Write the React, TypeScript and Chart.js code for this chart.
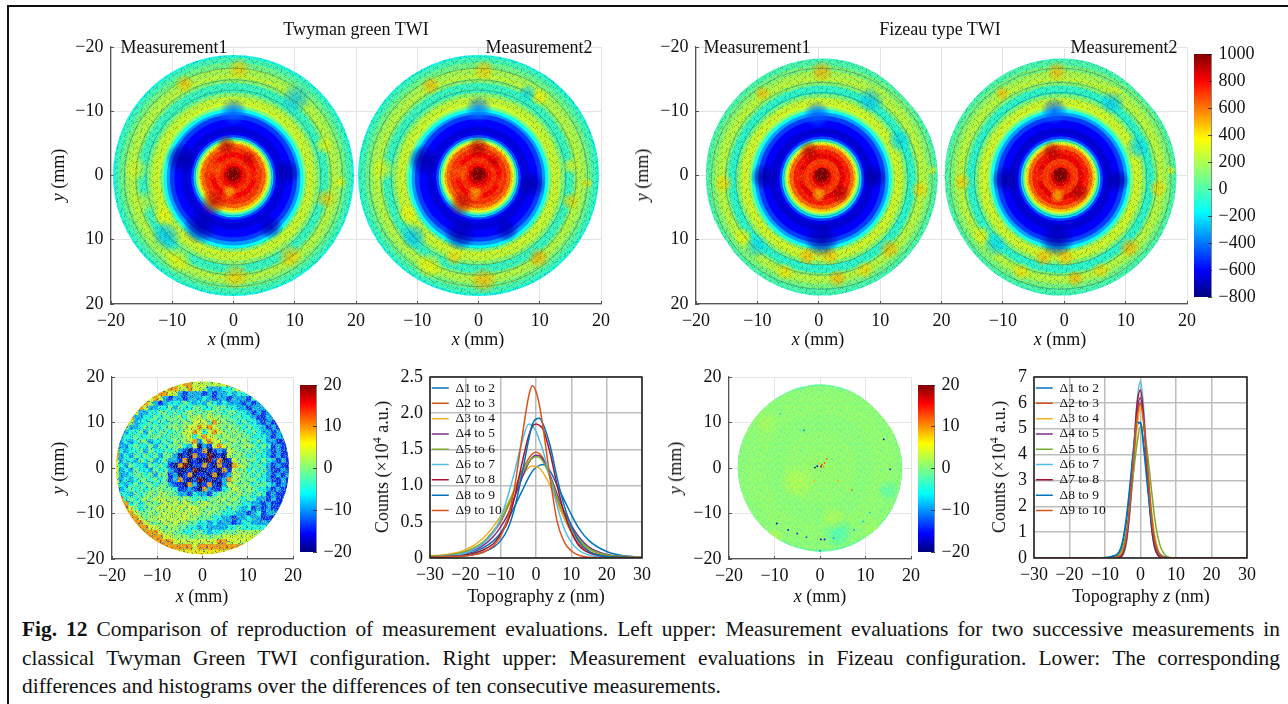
import React, { useEffect, useRef } from "react";
import { Chart, registerables } from "chart.js";

Chart.register(...registerables);

const FONT = "'Liberation Serif', 'Times New Roman', serif";
const MINUS = "\u2212";

// ---------- colour map stops (position, colour) ----------
const jetPos = [0, 0.11, 0.35, 0.5, 0.65, 0.89, 1];
const jetRgb = [[0, 0, 127], [0, 0, 255], [0, 255, 255], [127, 255, 127], [255, 255, 0], [255, 0, 0], [127, 0, 0]];

// ---------- upper maps: ring radius (mm) and height (nm), outer to inner ----------
const twiRadii = [18.9, 18.4, 17.6, 16.8, 16.0, 15.4, 14.8, 14.0, 13.4, 12.8, 12.0, 11.4, 10.9, 10.4, 9.9, 9.2, 8.0, 7.0, 6.6, 6.2, 5.9, 5.6, 5.3, 5.0, 4.4, 3.6, 2.8, 2.0, 1.5, 1.1, 0.7];
const twiValues = [-130, -30, 70, 190, 240, 120, -50, -60, 120, 250, 280, 110, -150, -340, -500, -600, -660, -620, -480, -200, 50, 290, 480, 630, 720, 800, 720, 780, 860, 960, 1000];
const twiShiftY = [0, 0, 0, 0.1, 0.2, 0.3, 0.4, 0.4, 0.5, 0.5, 0.5, 0.5, 0.5, 0.5, 0.4, 0.4, 0.4, 0.3, 0.3, 0.3, 0.2, 0.2, 0.2, 0.1, 0.1, 0, 0, 0, 0, -0.2, -0.2];
const fizRadii = [18.7, 18.2, 17.4, 16.6, 15.9, 15.2, 14.6, 13.9, 13.3, 12.7, 12.0, 11.4, 10.9, 10.4, 9.9, 9.2, 8.0, 7.0, 6.6, 6.2, 5.9, 5.6, 5.3, 5.0, 4.4, 3.6, 2.8, 2.0, 1.5, 1.1, 0.7];
const fizValues = [-60, -10, 90, 200, 240, 120, -70, -90, 110, 260, 290, 140, -130, -330, -500, -610, -670, -630, -490, -210, 40, 280, 470, 630, 760, 830, 700, 740, 860, 980, 1000];
const fizShiftY = [0, 0, 0, 0.1, 0.2, 0.3, 0.4, 0.4, 0.4, 0.4, 0.4, 0.4, 0.4, 0.4, 0.4, 0.4, 0.4, 0.3, 0.3, 0.3, 0.2, 0.2, 0.2, 0.1, 0.1, 0, 0, 0, 0, -0.3, -0.3];

// local features of each map: x, y, value, size (mm, nm)
const twiPatches = [
  [0.9, -16.6, 450, 1.8], [-8, -14.3, 470, 1.5], [10.2, -12, -260, 2.4], [14.7, -4.7, 350, 1.5], [15, 3.6, 450, 1.7],
  [17.5, 1, 350, 1], [-15.8, -1, 300, 2], [-11, 9.4, -260, 2.4], [9.2, 12.5, 450, 2], [0.4, 15.6, 450, 2.2],
  [-11.6, 6.2, 350, 1.7], [-9, 13, 350, 2.2], [-14.7, 4.2, 280, 2], [-8.5, -2.6, -750, 2.5], [8.7, -0.5, -740, 2.2],
  [-5.4, 8, -740, 2.8], [0, -9.9, -430, 2.2], [6, 8, -720, 2], [-1.2, -4.7, 920, 1.6], [-3.3, 4.2, 900, 2.1],
  [2.4, -2.6, 880, 1.3], [-0.7, 2.6, 480, 1.2], [-3, -1, 640, 1.6], [4, 0, 700, 1.2],
];
const twiPatches2 = [
  [0.9, -16.4, 450, 1.8], [-7.8, -14, 480, 1.5], [10, -12.2, 380, 1.5], [15, -1.5, 350, 1.4], [15, 4, 430, 1.5],
  [17.8, 1.2, 400, 0.9], [-15.6, -1, 330, 2], [-10.6, 9.5, -260, 2.2], [9.8, 12.8, 500, 1.7], [0.8, 16.3, 480, 2.2],
  [-11.6, 6, 360, 1.7], [-8, 14, 370, 2.2], [-4, 12.8, 430, 1.4], [-9, -2.4, -750, 2.5], [8.7, 1.4, -740, 2.2],
  [-3, 9.2, -740, 2.6], [0, -10.4, -400, 2.2], [4.5, 8.4, -720, 2], [0, -4.4, 930, 1.8], [-2.8, 4.4, 900, 2],
  [2.4, -2.2, 880, 1.2], [-0.5, 2.8, 500, 1.3], [-3, -0.5, 620, 1.5], [3.6, 1, 700, 1.2], [8, -12.8, -230, 1.5],
];
const fizPatches = [
  [0, -16.4, 500, 1.8], [-9.7, -13, 480, 1.3], [9, -13, 350, 1.2], [8, -12, -260, 2.2], [-16, 1, 420, 1.6],
  [16, 2, 430, 1.5], [18, -1, 350, 0.8], [11, 11.2, 480, 1.7], [-2.4, 12.4, 480, 1.5], [1.3, 12.4, 460, 1.5],
  [2.6, 15.8, 490, 1.5], [7, 14.5, 430, 1.5], [-6, 14.8, 410, 1.5], [-10.7, 10.9, -220, 2], [-12.8, 9.3, 360, 1.5],
  [-9.4, 0, -750, 2.2], [8.5, 0, -750, 2], [0, 9.8, -740, 2.8], [-0.8, -9.7, -450, 2.2], [12.6, -5.6, -220, 2],
  [-2, -4, 920, 1.7], [3, 2.6, 920, 1.6], [-0.5, 2.8, 460, 1.2], [-3.2, 0, 720, 1.3],
];
const fizPatches2 = [
  [-0.6, -16.4, 480, 1.7], [-9.5, -13, 480, 1.2], [8.8, -13, 380, 1.2], [8.4, -11.6, -250, 2], [-16, 0.8, 440, 1.5],
  [15.8, 1.8, 430, 1.5], [18, -1, 370, 0.8], [11.2, 11, 490, 1.7], [-2.8, 12.6, 480, 1.5], [0.8, 12.6, 460, 1.5],
  [2.4, 15.8, 490, 1.4], [6.6, 14.6, 430, 1.4], [-6.4, 14.8, 410, 1.5], [-10.7, 10.6, -220, 2], [-12.8, 9, 360, 1.5],
  [-9, 0.4, -750, 2.2], [9.2, 0.6, -750, 2], [-0.6, 9.8, -740, 2.8], [-1, -10.2, -450, 2.2], [12.6, -4.6, -220, 2],
  [-1.4, -4, 920, 1.6], [3, 2.4, 930, 1.6], [-0.5, 3, 450, 1.2], [-3.2, 0, 720, 1.3],
];
const twiDarkRings = [17.0, 15.2, 13.6, 6.0];
const fizDarkRings = [17.2, 15.0, 13.4, 5.9];

// outline of each part every 15 degrees (mm)
const fizOutline = [18.1, 18.1, 18.2, 18.3, 18.4, 18.5, 18.6, 18.5, 18.3, 18.1, 18.0, 18.1, 18.1, 18.2, 18.2, 18.2, 18.3, 18.4, 18.5, 18.5, 18.2, 17.8, 18.0, 18.1];
const twiOutline = [18.75];
const diffLeftOutline = [19.0];
const diffRightOutline = [18.2, 18.2, 18.3, 18.4, 18.4, 18.5, 18.5, 18.4, 18.3, 18.2, 18.1, 18.1, 18.2, 18.2, 18.1, 18.1, 18.2, 18.4, 18.5, 18.4, 18.1, 17.7, 17.9, 18.1];

// ---------- lower-left difference map: levels 0-8 in nm ----------
const diffLeftLevels = [-20, -14, -9, -5, -1, 1.5, 4, 10, 20];
const diffLeftRim = 7;
const diffLeftRows = [
  "...... ...... 667766 656667 ...... ......",
  "...... ...667 766766 522233 466... ......",
  "...... .66776 621222 121223 233... ......",
  "...... 667621 221222 321221 222133 ......",
  "....66 762123 334323 243232 221212 ......",
  "...667 622334 243344 334443 322122 2.....",
  "..6762 233443 434544 454434 433212 12....",
  "..7722 334344 453556 465544 343321 12....",
  ".77623 343434 445466 647554 434332 121...",
  ".76223 434344 545667 676545 443433 2121..",
  ".72334 243443 446676 367654 544343 2212..",
  "823343 344434 445636 766455 454433 3212..",
  "823234 423343 545672 676645 545434 32211.",
  "822343 342434 453260 216765 445543 43121.",
  "732334 243343 421011 701216 544434 32121.",
  "723243 434244 201071 180106 454343 321211",
  "623324 342342 217010 081701 645443 432121",
  "632433 243431 078011 710710 765434 321211",
  "623243 324342 100180 011071 645343 421121",
  "622344 342441 201701 107012 654434 321212",
  "623234 434341 271018 010127 554443 321121",
  "632343 443442 110720 171026 545434 432121",
  "723434 344544 311210 721134 654543 32121.",
  "733243 454554 422132 213445 454434 31211.",
  ".73434 545655 545434 344554 543432 2121..",
  ".77343 454565 656545 654545 443322 1211..",
  "..7643 445656 565665 545443 432312 121...",
  "..7764 454565 656565 454433 322123 12....",
  "...776 455656 566554 443322 122322 1.....",
  "....77 654565 655443 323222 123322 ......",
  ".....7 766545 544332 322223 343... ......",
  "...... 777655 443344 323344 45.... ......",
  "...... ..7766 555445 545566 6..... ......",
  "...... ....77 666666 666776 ...... ......",
  "...... ...... 777767 7..... ...... ......",
];

// ---------- lower-right difference map ----------
const diffRightRadii = [18.6, 18.0, 16.0, 12.0, 8.0, 4.0];
const diffRightValues = [-1.6, 0.6, 0.9, 0.5, 0.9, 1.1];
const diffRightPatches = [
  [4, -14.2, -3.6, 3.5], [-5, -3, 3, 4], [3, -11, 2.6, 3], [12, -14, 2, 3], [-16, 3, 0.4, 3], [15, -5, -2.6, 2.5], [-12, 10, 2.2, 3], [-10, -15, 3.2, 2],
];
const diffRightSpecks = [
  [-1.1, 0.1, -20], [-0.6, 0.4, -18], [0.4, 0.7, 14], [1, 1.1, 12], [0.2, 0.3, 18], [0.8, 0.2, 10], [-0.2, 1, 9], [1.5, 2, 12], [2.6, 2, -6],
  [-9.5, -12.2, -18], [-7, -13.6, -16], [-5, -14.4, -14], [-3, -15.2, -12], [0.2, -15.7, -18], [1, -15.7, -16], [3, -15.4, -10], [7.5, -13.6, -10], [9.5, -11.8, -8], [11, -9.8, -8],
  [14, 6.3, -18], [15.4, -0.3, -15], [-8.7, 11.9, -8], [0, -18.2, -10], [-3.5, 8.3, -10], [7, -4.8, 12], [-1.2, -2.8, 9], [4, -2.8, 9],
];

// ---------- colour bars ----------
const topBarRange = [-800, 1000];
const diffBarRange = [-20, 20];

// ---------- histograms ----------
const legendNames = ["\u03941 to 2", "\u03942 to 3", "\u03943 to 4", "\u03944 to 5", "\u03945 to 6", "\u03946 to 7", "\u03947 to 8", "\u03948 to 9", "\u03949 to 10"];
const curveColors = ["#0072BD", "#D95319", "#EDB120", "#7E2F8E", "#77AC30", "#4DBEEE", "#A2142F", "#0072BD", "#D95319"];
const histLeftZ = [-30, -25, -20, -15, -12, -10, -8, -6, -4, -2, -1, 0, 1, 2, 4, 6, 8, 10, 12, 15, 20, 25, 30];
const histLeft = [
  [0.01, 0.02, 0.05, 0.14, 0.24, 0.35, 0.52, 0.72, 0.92, 1.12, 1.2, 1.25, 1.28, 1.29, 1.2, 1.0, 0.8, 0.6, 0.42, 0.24, 0.09, 0.03, 0.01],
  [0.02, 0.04, 0.08, 0.2, 0.36, 0.5, 0.7, 0.95, 1.2, 1.38, 1.44, 1.46, 1.44, 1.38, 1.12, 0.8, 0.55, 0.36, 0.2, 0.09, 0.03, 0.01, 0.0],
  [0.03, 0.05, 0.11, 0.27, 0.44, 0.58, 0.75, 0.95, 1.12, 1.25, 1.27, 1.26, 1.24, 1.18, 1.0, 0.76, 0.55, 0.38, 0.25, 0.12, 0.04, 0.02, 0.01],
  [0.02, 0.03, 0.07, 0.17, 0.3, 0.43, 0.6, 0.85, 1.1, 1.32, 1.39, 1.42, 1.41, 1.36, 1.14, 0.88, 0.64, 0.45, 0.3, 0.15, 0.05, 0.02, 0.01],
  [0.02, 0.04, 0.09, 0.22, 0.38, 0.52, 0.72, 0.95, 1.17, 1.33, 1.38, 1.4, 1.39, 1.33, 1.12, 0.84, 0.6, 0.41, 0.27, 0.13, 0.04, 0.02, 0.01],
  [0.01, 0.03, 0.07, 0.2, 0.36, 0.55, 0.85, 1.2, 1.6, 1.85, 1.82, 1.75, 1.62, 1.48, 1.1, 0.72, 0.4, 0.22, 0.11, 0.04, 0.01, 0, 0],
  [0.01, 0.02, 0.04, 0.11, 0.2, 0.33, 0.5, 0.85, 1.3, 1.7, 1.82, 1.85, 1.83, 1.78, 1.45, 1.0, 0.62, 0.36, 0.18, 0.07, 0.02, 0.01, 0],
  [0.01, 0.02, 0.03, 0.08, 0.15, 0.24, 0.4, 0.7, 1.15, 1.65, 1.85, 1.92, 1.93, 1.85, 1.55, 1.1, 0.72, 0.44, 0.24, 0.09, 0.02, 0.01, 0],
  [0.01, 0.02, 0.03, 0.08, 0.17, 0.3, 0.55, 1.0, 1.65, 2.25, 2.38, 2.3, 2.1, 1.8, 1.1, 0.5, 0.22, 0.1, 0.04, 0.01, 0, 0, 0],
];
const histRightZ = [-30, -15, -10, -8, -6, -5, -4, -3, -2, -1, 0, 1, 2, 3, 4, 5, 6, 8, 10, 15, 30];
const histRight = [
  [0, 0, 0.01, 0.05, 0.2, 0.6, 1.4, 2.6, 4.05, 5.1, 5.25, 4.3, 2.9, 1.6, 0.72, 0.26, 0.09, 0.01, 0, 0, 0],
  [0, 0, 0, 0.01, 0.06, 0.2, 0.8, 2.0, 3.7, 5.4, 6.0, 5.1, 3.4, 1.7, 0.66, 0.2, 0.05, 0.01, 0, 0, 0],
  [0, 0, 0, 0.01, 0.08, 0.25, 0.8, 1.9, 3.4, 5.0, 5.8, 5.25, 3.7, 2.0, 0.9, 0.3, 0.08, 0.01, 0, 0, 0],
  [0, 0, 0, 0, 0.04, 0.15, 0.7, 1.9, 3.75, 5.6, 6.2, 5.2, 3.4, 1.6, 0.55, 0.15, 0.03, 0, 0, 0, 0],
  [0, 0, 0, 0.01, 0.14, 0.42, 1.0, 2.0, 3.25, 4.4, 5.1, 4.95, 4.0, 2.75, 1.55, 0.75, 0.31, 0.03, 0, 0, 0],
  [0, 0, 0, 0, 0.02, 0.1, 0.55, 1.75, 3.8, 6.0, 6.85, 5.6, 3.3, 1.35, 0.4, 0.08, 0.01, 0, 0, 0, 0],
  [0, 0, 0, 0, 0.03, 0.14, 0.65, 1.95, 3.95, 5.9, 6.5, 5.3, 3.1, 1.3, 0.4, 0.09, 0.02, 0, 0, 0, 0],
  [0, 0, 0.02, 0.07, 0.25, 0.68, 1.55, 2.8, 4.2, 5.25, 5.2, 4.1, 2.7, 1.45, 0.62, 0.22, 0.07, 0.01, 0, 0, 0],
  [0, 0, 0, 0.01, 0.07, 0.24, 0.85, 2.05, 3.8, 5.4, 5.95, 5.15, 3.45, 1.8, 0.7, 0.22, 0.05, 0.01, 0, 0, 0],
];

// ---------- surface grain tiles ----------
const grainRows = [
  "..d....l..d...d.....",
  ".....d.......l...d..",
  "d..l....d..d......l.",
  "...d..d......d.d....",
  ".l.....l..d.......d.",
  "....d.....l..d..l...",
  "d......d.......d...d",
  "..l.d.....d.l.......",
  "......l.d.....d..d..",
  ".d..........l.....l.",
  "....d..l.d.....d....",
  "..d.......d..l....d.",
  "l.....d.......d.....",
  "...l.....d.d.....l.d",
  ".d....d.......l.....",
  "......l..d.d....d...",
  "..d.......l...d....l",
  "l...d..d........d...",
  "...l......d..l...d..",
  ".d.....l.......d....",
];
const speckleRows = [
  "b.yy.c..ob...y.c.g.o",
  ".c.o.y.gb.g.c.yy.b..",
  "yy.bc...y.o.b..c.y.g",
  ".g...b.cc.y.g.o.bb.c",
  "o.cc.y.g..b.yy...g.y",
  "..bg...y.c.g..b.y.c.",
  "c.y..bb.gy...o.g.b.y",
  ".o.c.y.b...gyy.bc...",
  "g.b..yc.o.c.b.y.g..o",
  "..y.gb..y.g.oo.c.y.b",
  "b.c.oo.gc.b.y...bb.c",
  ".y..by.o.y..c.b.o.y.",
  "cc.g...b.gg.y.o.c.gb",
  "..b.y.gc.o.b..g.yy.c",
  "y..cc.by..cg.y.b.o.g",
  ".g.o.yy.g..b.c.g..y.",
  "bb.y.c..o.y.b.yy.g.b",
  "..c.gy.c.g.c.o.c.y.c",
  "o.b..g.yy.b...g.bb.y",
  ".yy.c.o.b.c.gg.y.c.o",
];
const grainPalette = { d: "rgba(15,45,30,0.3)", l: "rgba(255,255,170,0.2)" };
const speckleLeftPalette = { b: "rgba(0,30,200,0.55)", c: "rgba(0,190,235,0.45)", y: "rgba(235,240,70,0.42)", o: "rgba(240,150,30,0.3)", g: "rgba(80,235,150,0.55)" };
const speckleRightPalette = { b: "rgba(90,225,170,0.35)", c: "rgba(90,225,200,0.4)", y: "rgba(215,240,100,0.45)", o: "rgba(190,240,110,0.35)", g: "rgba(110,225,150,0.45)" };
const outerShade = "rgba(40,70,40,0.06)";

// ---------- helpers ----------
const colorAt = (v: number, lo: number, hi: number, alpha = 1) => {
  const t = Math.max(0, Math.min(1, (v - lo) / (hi - lo)));
  let i = 0;
  while (i < jetPos.length - 2 && t > jetPos[i + 1]) i++;
  const f = (t - jetPos[i]) / (jetPos[i + 1] - jetPos[i]);
  const c = jetRgb[i].map((a, k) => Math.round(a + (jetRgb[i + 1][k] - a) * f));
  return `rgba(${c[0]},${c[1]},${c[2]},${alpha})`;
};
const mmPx = (chart: any, mm: number) => {
  const y = chart.scales.y;
  const d = Math.abs(y.getPixelForValue(mm) - y.getPixelForValue(0));
  return Number.isFinite(d) ? d : 0;
};
const fmt = (v: number) => String(v).replace("-", MINUS);
// the typed rows are laid out with row-wise offsets so that the texture does not show a visible lattice
const makeTile = (rows: string[], palette: any) => {
  const size = 60;
  const c = document.createElement("canvas");
  c.width = size;
  c.height = size;
  const g = c.getContext("2d")!;
  for (let y = 0; y < size; y++) {
    const row = rows[(y * 7) % rows.length];
    const off = (y * 13) % row.length;
    for (let x = 0; x < size; x++) {
      const col = palette[row[(x + off) % row.length]];
      if (col) {
        g.fillStyle = col;
        g.fillRect(x, y, 1, 1);
      }
    }
  }
  return c;
};

const discClip = {
  id: "discClip",
  beforeDatasetDraw(chart: any, args: any) {
    const o = chart.data.datasets[args.index].outline;
    if (!o) return;
    const ctx = chart.ctx;
    const cx = chart.scales.x.getPixelForValue(o.x);
    const cy = chart.scales.y.getPixelForValue(o.y);
    const unit = mmPx(chart, 1);
    ctx.save();
    ctx.beginPath();
    if (o.radii.length === 1) {
      ctx.arc(cx, cy, o.radii[0] * unit, 0, Math.PI * 2);
    } else {
      const n = o.radii.length;
      const pt = (i: number) => {
        const a = (i / n) * Math.PI * 2;
        const r = o.radii[i % n] * unit * 1.004;
        return [cx + Math.cos(a) * r, cy + Math.sin(a) * r];
      };
      for (let i = 0; i < n; i++) {
        const p = pt(i);
        const q = pt(i + 1);
        const mid = [(p[0] + q[0]) / 2, (p[1] + q[1]) / 2];
        if (i === 0) ctx.moveTo((pt(n - 1)[0] + p[0]) / 2, (pt(n - 1)[1] + p[1]) / 2);
        ctx.quadraticCurveTo(p[0], p[1], mid[0], mid[1]);
      }
      ctx.closePath();
    }
    ctx.clip();
  },
  afterDatasetDraw(chart: any, args: any) {
    if (chart.data.datasets[args.index].outline) chart.ctx.restore();
  },
};
const frame = {
  id: "frame",
  afterLayout(chart: any, _a: any, opts: any) {
    if (opts && opts.on && chart.legend) chart.legend.top = chart.chartArea.top + 2.5;
  },
  afterDraw(chart: any, _a: any, opts: any) {
    if (!opts || !opts.on) return;
    const { left, top, width, height } = chart.chartArea;
    const g = chart.ctx;
    g.save();
    g.strokeStyle = "#1a1a1a";
    g.lineWidth = 1.5;
    g.strokeRect(left, top, width, height);
    g.restore();
  },
};

const tickFont = { family: FONT, size: 18 };

const pinned = (plot: any, M: any) => ({
  box: { left: plot.l - M.l, top: plot.t - M.t, width: plot.r - plot.l + M.l + M.r, height: plot.b - plot.t + M.t + M.b },
  padding: { left: 0, top: M.t, right: M.r, bottom: 0 },
});

const base = (pad: any) => ({
  responsive: false,
  animation: false,
  devicePixelRatio: 1,
  events: [],
  layout: { padding: pad, autoPadding: false },
});

const scatterDefaults = { showLine: false, pointBorderWidth: 0, pointBorderColor: "rgba(0,0,0,0)", clip: false };

// one map as a stack of scatter datasets
const discSets = (d: any, lo: number, hi: number, grain: any, grainAnnuli: number[][]) => {
  const outline = { x: d.x, y: d.y || 0, radii: d.outline };
  const sets: any[] = [];
  sets.push({
    ...scatterDefaults,
    outline,
    data: d.radii.map((r: number, i: number) => ({ x: d.x, y: (d.y || 0) + (d.shift ? d.shift[i] : 0), r, v: d.values[i] })),
    pointRadius: (c: any) => mmPx(c.chart, c.raw.r),
    pointBackgroundColor: (c: any) => colorAt(c.raw.v, lo, hi),
  });
  sets.push({
    ...scatterDefaults,
    outline,
    data: d.patches.map((p: number[]) => ({ x: d.x + p[0], y: (d.y || 0) + p[1], v: p[2], r: p[3] })),
    pointRadius: (c: any) => mmPx(c.chart, c.raw.r),
    pointBackgroundColor: (c: any) => {
      const ch = c.chart;
      const px = ch.scales.x.getPixelForValue(c.raw.x);
      const py = ch.scales.y.getPixelForValue(c.raw.y);
      const rad = mmPx(ch, c.raw.r);
      if (!Number.isFinite(px) || !Number.isFinite(py) || rad <= 0) return "rgba(0,0,0,0)";
      const g = ch.ctx.createRadialGradient(px, py, 0, px, py, rad);
      g.addColorStop(0, colorAt(c.raw.v, lo, hi, 0.82));
      g.addColorStop(0.55, colorAt(c.raw.v, lo, hi, 0.48));
      g.addColorStop(1, colorAt(c.raw.v, lo, hi, 0));
      return g;
    },
  });
  if (d.dark) {
    sets.push({
      ...scatterDefaults,
      outline,
      data: d.dark.map((r: number) => ({ x: d.x, y: (d.y || 0) + 0.3, r })),
      pointRadius: (c: any) => mmPx(c.chart, c.raw.r),
      pointBackgroundColor: "rgba(0,0,0,0)",
      pointBorderColor: "rgba(40,60,30,0.32)",
      pointBorderWidth: 1,
    });
  }
  const annulus = (an: number[], color: any) => ({
    ...scatterDefaults,
    outline,
    data: [{ x: d.x, y: d.y || 0, ri: an[0], ro: an[1] }],
    pointRadius: (c: any) => mmPx(c.chart, (c.raw.ri + c.raw.ro) / 2),
    pointBackgroundColor: "rgba(0,0,0,0)",
    pointBorderColor: color,
    pointBorderWidth: (c: any) => mmPx(c.chart, c.raw.ro - c.raw.ri),
  });
  if (d.shade) sets.push(annulus(d.shade, outerShade));
  grainAnnuli.forEach((an) => sets.push(annulus(an, grain)));
  return sets;
};

const applyOrder = (sets: any[]) => sets.map((s, i) => ({ ...s, order: sets.length - i }));

const mapScales = (M: any, opts: any) => ({
  x: {
    type: "linear",
    min: opts.xMin,
    max: opts.xMax,
    afterFit: (s: any) => { s.height = M.b; },
    afterBuildTicks: (s: any) => { s.ticks = opts.xTicks.map((value: number) => ({ value })); },
    grid: { color: "#e3e3e3", lineWidth: 1, tickColor: "#555", tickLength: -3, tickWidth: 1 },
    border: { color: "#555", width: 1.2 },
    ticks: { font: tickFont, color: "#111", padding: 9, autoSkip: false, maxRotation: 0, callback: opts.xLabel },
  },
  y: {
    type: "linear",
    min: -20,
    max: 20,
    reverse: opts.reverse,
    afterFit: (s: any) => { s.width = M.l; },
    afterBuildTicks: (s: any) => { s.ticks = [-20, -10, 0, 10, 20].map((value) => ({ value })); },
    grid: { color: "#e3e3e3", lineWidth: 1, tickColor: "#555", tickLength: -3, tickWidth: 1 },
    border: { color: "#555", width: 1.2 },
    ticks: { font: tickFont, color: "#111", padding: 10.5, autoSkip: false, callback: (v: number) => fmt(v) },
  },
});

const App = () => {
  const holder = useRef<HTMLDivElement | null>(null);

  useEffect(() => {
    const root = holder.current!;
    const charts: any[] = [];
    const add = (box: any, config: any, blur = 0) => {
      const cv = document.createElement("canvas");
      cv.width = box.width;
      cv.height = box.height;
      cv.style.cssText = `position:absolute;display:block;left:${box.left}px;top:${box.top}px;width:${box.width}px;height:${box.height}px;${blur ? `filter:blur(${blur}px);` : ""}`;
      root.appendChild(cv);
      charts.push(new Chart(cv, { plugins: [discClip, frame], ...config }));
      return cv;
    };
    const probe = document.createElement("canvas").getContext("2d")!;
    const grain = probe.createPattern(makeTile(grainRows, grainPalette), "repeat");
    const speckleL = probe.createPattern(makeTile(speckleRows, speckleLeftPalette), "repeat");
    const speckleR = probe.createPattern(makeTile(speckleRows, speckleRightPalette), "repeat");

    // upper double maps
    const topMap = (plot: any, discs: any[]) => {
      const M = { l: 60, r: 22, t: 24, b: 30 };
      const p = pinned(plot, M);
      const sets = applyOrder(discs.flatMap((d) => discSets({ ...d, shade: [11.2, 19.4] }, -800, 1000, grain, [[11.2, 19.4], [0, 5.4]])));
      add(p.box, {
        type: "scatter",
        data: { datasets: sets },
        options: {
          ...base(p.padding),
          plugins: { legend: { display: false }, tooltip: { enabled: false } },
          scales: mapScales(M, {
            xMin: -20, xMax: 60, reverse: true,
            xTicks: [-20, -10, 0, 10, 20, 30, 40, 50, 60],
            xLabel: (v: number) => fmt(v > 20 ? v - 40 : v),
          }),
        },
      }, 0.55);
    };
    topMap({ l: 111, r: 601, t: 47, b: 304 }, [
      { x: 0, radii: twiRadii, values: twiValues, shift: twiShiftY, patches: twiPatches, dark: twiDarkRings, outline: twiOutline },
      { x: 40, radii: twiRadii, values: twiValues, shift: twiShiftY, patches: twiPatches2, dark: twiDarkRings, outline: twiOutline },
    ]);
    topMap({ l: 696, r: 1187, t: 47, b: 304 }, [
      { x: 0.5, y: 0.2, radii: fizRadii, values: fizValues, shift: fizShiftY, patches: fizPatches, dark: fizDarkRings, outline: fizOutline },
      { x: 39.4, y: 0.2, radii: fizRadii, values: fizValues, shift: fizShiftY, patches: fizPatches2, dark: fizDarkRings, outline: fizOutline },
    ]);

    // lower difference maps
    const diffMap = (plot: any, sets: any[]) => {
      const M = { l: 60, r: 22, t: 24, b: 30 };
      const p = pinned(plot, M);
      add(p.box, {
        type: "scatter",
        data: { datasets: applyOrder(sets) },
        options: {
          ...base(p.padding),
          plugins: { legend: { display: false }, tooltip: { enabled: false } },
          scales: mapScales(M, {
            xMin: -20, xMax: 20, reverse: false,
            xTicks: [-20, -10, 0, 10, 20],
            xLabel: (v: number) => fmt(v),
          }),
        },
      }, 0.45);
    };
    const leftOutline = { x: 0, y: 0, radii: diffLeftOutline };
    const leftCells: any[] = [];
    diffLeftRows.forEach((row, i) => {
      const chars = row.replace(/ /g, "").split("");
      const first = chars.findIndex((c) => c !== ".");
      let last = chars.length - 1;
      while (chars[last] === ".") last--;
      chars.forEach((ch, j) => {
        const level = ch !== "." ? ch : j < first ? chars[first] : chars[last];
        leftCells.push({ x: (j + 0.5 - 18) * 1.085, y: (18 - i - 0.5) * 1.05, v: diffLeftLevels[Number(level)] });
      });
    });
    diffMap({ l: 112, r: 293, t: 377, b: 559 }, [
      {
        ...scatterDefaults,
        outline: leftOutline,
        data: [{ x: 0, y: 0, r: 19.2, v: diffLeftRim }],
        pointRadius: (c: any) => mmPx(c.chart, c.raw.r),
        pointBackgroundColor: (c: any) => colorAt(c.raw.v, -20, 20),
      },
      {
        ...scatterDefaults,
        outline: leftOutline,
        data: leftCells,
        pointStyle: "rect",
        pointRadius: 3.9,
        pointBackgroundColor: (c: any) => colorAt(c.raw.v, -20, 20),
      },
      {
        ...scatterDefaults,
        outline: leftOutline,
        data: [{ x: 0, y: 0, r: 19.2 }],
        pointRadius: (c: any) => mmPx(c.chart, c.raw.r),
        pointBackgroundColor: speckleL,
      },
    ]);
    const rightDisc = {
      x: 0, radii: diffRightRadii, values: diffRightValues, patches: diffRightPatches, outline: diffRightOutline,
    };
    diffMap({ l: 729, r: 911, t: 377, b: 559 }, [
      ...discSets(rightDisc, -20, 20, speckleR, [[0, 19]]),
      {
        ...scatterDefaults,
        data: diffRightSpecks.map((p) => ({ x: p[0], y: p[1], v: p[2] })),
        pointRadius: 0.9,
        pointBackgroundColor: (c: any) => colorAt(c.raw.v, -20, 20),
      },
    ]);

    // colour bars
    const bar = (plot: any, range: number[], step: number) => {
      const M = { l: 0, r: 50, t: 24, b: 24 };
      const p = pinned(plot, M);
      add(p.box, {
        type: "bar",
        data: {
          labels: [""],
          datasets: [{
            data: [range],
            barPercentage: 1,
            categoryPercentage: 1,
            borderWidth: 0,
            backgroundColor: (c: any) => {
              const y = c.chart.scales.y;
              const y0 = y.getPixelForValue(range[0]);
              const y1 = y.getPixelForValue(range[1]);
              if (!Number.isFinite(y0) || !Number.isFinite(y1)) return "rgba(0,0,0,0)";
              const g = c.chart.ctx.createLinearGradient(0, y0, 0, y1);
              jetPos.forEach((pos) => g.addColorStop(pos, colorAt(range[0] + pos * (range[1] - range[0]), range[0], range[1])));
              return g;
            },
          }],
        },
        options: {
          ...base({ left: 0, top: M.t, right: 0, bottom: M.b }),
          plugins: { legend: { display: false }, tooltip: { enabled: false } },
          scales: {
            x: { display: false },
            y: {
              position: "right",
              min: range[0],
              max: range[1],
              afterFit: (s: any) => { s.width = M.r; },
              ticks: { stepSize: step, font: tickFont, color: "#111", padding: 10.5, callback: (v: number) => fmt(v) },
              grid: { drawOnChartArea: false, tickLength: -3, tickColor: "rgba(30,30,30,0.8)", tickWidth: 1, z: 1 },
              border: { color: "rgba(40,40,40,0.55)", width: 1, z: 1 },
            },
          },
        },
      }, 0.3);
    };
    bar({ l: 1194, r: 1211, t: 54, b: 297 }, topBarRange, 200);
    bar({ l: 300, r: 316, t: 385, b: 552 }, diffBarRange, 10);
    bar({ l: 918, r: 934, t: 385, b: 552 }, diffBarRange, 10);

    // histograms
    const hist = (plot: any, zs: number[], curves: number[][], yMax: number, step: number, yLabel: (v: number) => string) => {
      const M = { l: 50, r: 20, t: 24, b: 30 };
      const p = pinned(plot, M);
      add(p.box, {
        type: "scatter",
        data: {
          datasets: curves.map((c, i) => ({
            label: legendNames[i],
            data: c.map((y, k) => ({ x: zs[k], y })),
            showLine: true,
            borderColor: curveColors[i],
            backgroundColor: curveColors[i],
            borderWidth: 1.5,
            pointRadius: 0,
            cubicInterpolationMode: "monotone",
            order: curves.length - i,
          })),
        },
        options: {
          ...base(p.padding),
          plugins: {
            tooltip: { enabled: false },
            frame: { on: true },
            legend: {
              position: "chartArea",
              align: "start",
              labels: {
                usePointStyle: true,
                pointStyle: "line",
                pointStyleWidth: 17,
                boxHeight: 10,
                padding: 1.8,
                color: "#111",
                font: { family: FONT, size: 13.5, lineHeight: 1 },
                sort: (a: any, b: any) => a.datasetIndex - b.datasetIndex,
              },
            },
          },
          scales: {
            x: {
              type: "linear",
              min: -30,
              max: 30,
              afterFit: (s: any) => { s.height = M.b; },
              grid: { color: "#bdbdbd", lineWidth: 1.5, drawTicks: false },
              border: { display: false },
              ticks: { stepSize: 10, font: tickFont, color: "#111", padding: 6, maxRotation: 0, callback: (v: number) => fmt(v) },
            },
            y: {
              type: "linear",
              min: 0,
              max: yMax,
              afterFit: (s: any) => { s.width = M.l; },
              grid: { color: "#bdbdbd", lineWidth: 1.5, drawTicks: false },
              border: { display: false },
              ticks: { stepSize: step, font: tickFont, color: "#111", padding: 7, callback: yLabel },
            },
          },
        },
      });
    };
    hist({ l: 430, r: 642, t: 377, b: 558 }, histLeftZ, histLeft, 2.5, 0.5, (v) => (v === 0 ? "0" : v.toFixed(1)));
    hist({ l: 1034, r: 1247, t: 377, b: 558 }, histRightZ, histRight, 7, 1, (v) => String(v));

    return () => {
      charts.forEach((c) => c.destroy());
      while (root.firstChild) root.removeChild(root.firstChild);
    };
  }, []);

  const label = (x: number, y: number, node: React.ReactNode, extra: any = {}) => (
    <div style={{ position: "absolute", left: x, top: y, transform: "translate(-50%,-50%)", whiteSpace: "nowrap", fontSize: 18, lineHeight: "20px", color: "#111", ...extra }}>{node}</div>
  );
  const xTitle = <><i>x</i> (mm)</>;
  const yTitle = <><i>y</i> (mm)</>;
  const zTitle = <>Topography <i>z</i> (nm)</>;
  const counts = <>Counts (×10<sup style={{ fontSize: 12, lineHeight: 0 }}>4</sup> a.u.)</>;
  const rot = { transform: "translate(-50%,-50%) rotate(-90deg)" };
  const just = { textAlign: "justify", textAlignLast: "justify" } as any;

  return (
    <div style={{ position: "absolute", left: 0, top: 0, width: 1288, height: 704, overflow: "hidden", background: "#fff", fontFamily: FONT }}>
      <div style={{ position: "absolute", left: 8, top: 5, right: 0, height: 2, background: "#111" }} />
      <div style={{ position: "absolute", left: 7, top: 5, bottom: 0, width: 2, background: "#111" }} />
      <div ref={holder} style={{ position: "absolute", left: 0, top: 0, width: 1288, height: 704 }} />

      {label(356, 29, "Twyman green TWI")}
      {label(940, 29, "Fizeau type TWI")}
      {label(174, 47, "Measurement1")}
      {label(539, 47, "Measurement2")}
      {label(757, 47, "Measurement1")}
      {label(1124, 47, "Measurement2")}

      {label(234, 339, xTitle)}
      {label(478, 339, xTitle)}
      {label(818, 339, xTitle)}
      {label(1060, 339, xTitle)}
      {label(58, 175, yTitle, rot)}
      {label(642, 175, yTitle, rot)}
      {label(58, 468, yTitle, rot)}
      {label(675, 468, yTitle, rot)}
      {label(202, 596, xTitle)}
      {label(820, 596, xTitle)}
      {label(536, 596, zTitle)}
      {label(1141, 596, zTitle)}
      {label(382, 467, counts, rot)}
      {label(999, 467, counts, rot)}

      <div style={{ position: "absolute", left: 22, top: 615, width: 1258, fontSize: 21.4, lineHeight: "28.5px", color: "#111" }}>
        <div style={just}><b>Fig. 12</b> Comparison of reproduction of measurement evaluations. Left upper: Measurement evaluations for two successive measurements in</div>
        <div style={just}>classical Twyman Green TWI configuration. Right upper: Measurement evaluations in Fizeau configuration. Lower: The corresponding</div>
        <div>differences and histograms over the differences of ten consecutive measurements.</div>
      </div>
    </div>
  );
};

export default App;
